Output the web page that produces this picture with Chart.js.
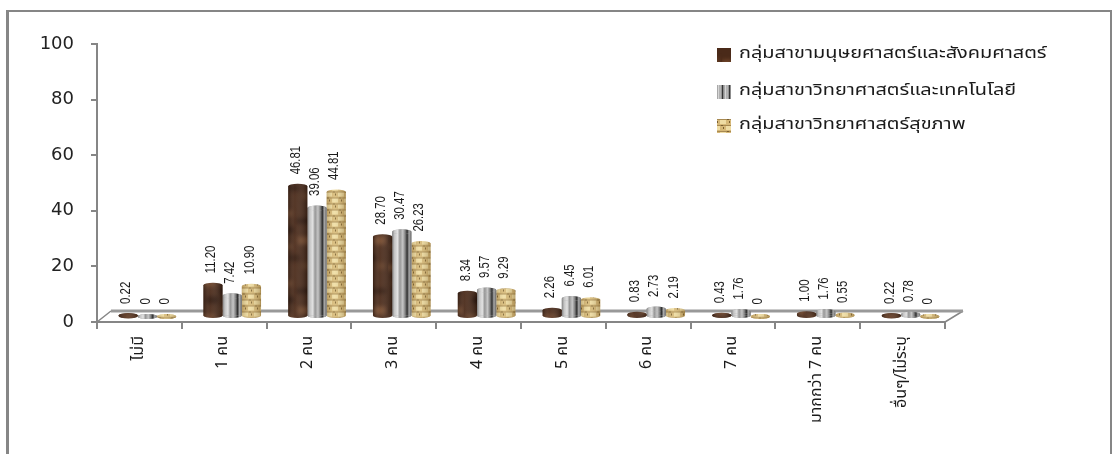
<!DOCTYPE html>
<html>
<head>
<meta charset="utf-8">
<title>chart</title>
<script src="https://cdn.jsdelivr.net/npm/chart.js@4/dist/chart.umd.min.js"></script>
<style>
  body { margin: 0; background: #fff; }
  #wrap { position: relative; width: 1112px; height: 454px; overflow: hidden; }
  #chart { display: block; }
</style>
</head>
<body>
<div id="wrap"><canvas id="chart" width="1112" height="454"></canvas></div>
<script>
const categories = ["ไม่มี", "1 คน", "2 คน", "3 คน", "4 คน", "5 คน", "6 คน", "7 คน", "มากกว่า 7 คน", "อื่นๆ/ไม่ระบุ"];
const seriesNames = [
  "กลุ่มสาขามนุษยศาสตร์และสังคมศาสตร์",
  "กลุ่มสาขาวิทยาศาสตร์และเทคโนโลยี",
  "กลุ่มสาขาวิทยาศาสตร์สุขภาพ",
];
const humanities = [0.22, 11.2, 46.81, 28.7, 8.34, 2.26, 0.83, 0.43, 1.0, 0.22];
const scienceTech = [0, 7.42, 39.06, 30.47, 9.57, 6.45, 2.73, 1.76, 1.76, 0.78];
const health = [0, 10.9, 44.81, 26.23, 9.29, 6.01, 2.19, 0, 0.55, 0];
const yTicks = [0, 20, 40, 60, 80, 100];

const GREY = "#868686";
const THAI = "'Noto Sans Thai', 'Noto Sans', 'DejaVu Sans', sans-serif";

// bars stand on the floor of the fake 3d box, so they are shifted back from the axis
const depthX = 8, depthY = -5.5, capR = 2.5;

function makeTexture(w, h, base, paint) {
  const c = document.createElement("canvas");
  c.width = w;
  c.height = h;
  const g = c.getContext("2d");
  g.fillStyle = base;
  g.fillRect(0, 0, w, h);
  paint(g);
  return g.createPattern(c, "repeat");
}

const darkTexture = makeTexture(38, 70, "#4a2a19", (g) => {
  g.filter = "blur(2px)";
  const blotches = [
    [4, 6, 14, 6, "#6e4429"], [22, 14, 14, 5, "#2e160b"], [8, 22, 12, 7, "#2e160b"],
    [24, 32, 12, 8, "#75492c"], [2, 40, 16, 4, "#6e4429"], [14, 50, 12, 7, "#331a0e"],
    [28, 58, 8, 7, "#5f3a22"], [0, 60, 10, 6, "#75492c"],
  ];
  blotches.forEach((b) => {
    g.fillStyle = b[4];
    g.fillRect(b[0], b[1], b[2], b[3]);
  });
});

const tanTexture = makeTexture(12, 12, "#d6b878", (g) => {
  g.fillStyle = "#efdca4";
  g.fillRect(0, 0, 6, 4);
  g.fillRect(6, 6, 6, 4);
  g.fillStyle = "#a88a52";
  g.fillRect(0, 5, 12, 1);
  g.fillRect(0, 11, 12, 1);
  g.fillStyle = "#7a5f30";
  g.fillRect(9, 1, 1, 2);
  g.fillRect(3, 7, 1, 2);
  g.fillRect(1, 5, 2, 1);
  g.fillRect(7, 11, 2, 1);
});

// horizontal shading of one cylinder, per series
const shades = [
  [[0, "rgba(0,0,0,0.25)"], [0.35, "rgba(255,255,255,0.06)"], [1, "rgba(0,0,0,0.3)"]],
  [[0, "#808080"], [0.12, "#c4c4c4"], [0.28, "#e2e2e2"], [0.4, "#969696"], [0.55, "#c6c6c6"],
   [0.68, "#808080"], [0.78, "#2e2e2e"], [0.88, "#a8a8a8"], [1, "#666666"]],
  [[0, "rgba(90,60,10,0.25)"], [0.4, "rgba(255,255,220,0.12)"], [1, "rgba(90,60,10,0.35)"]],
];

function shadeFill(ctx, set, left, right) {
  const grad = ctx.createLinearGradient(left, 0, right, 0);
  shades[set].forEach((s) => grad.addColorStop(s[0], s[1]));
  return grad;
}

function fillEllipse(ctx, set, bg, bar, y) {
  const half = bar.width / 2;
  ctx.beginPath();
  ctx.ellipse(bar.x, y, half, capR, 0, 0, Math.PI * 2);
  ctx.fillStyle = bg;
  ctx.fill();
  ctx.fillStyle = shadeFill(ctx, set, bar.x - half, bar.x + half);
  ctx.fill();
}

const fakeBox = {
  id: "fakeBox",
  beforeDatasetsDraw(chart) {
    const { ctx, chartArea: a } = chart;
    ctx.save();
    ctx.strokeStyle = GREY;
    ctx.lineWidth = 1.5;
    ctx.beginPath();
    ctx.moveTo(a.left, a.bottom);
    ctx.lineTo(a.left + 14, a.bottom - 11);
    ctx.moveTo(a.right + 18, a.bottom - 11);
    ctx.lineTo(a.right, a.bottom);
    ctx.stroke();
    ctx.strokeStyle = "#999";
    ctx.lineWidth = 3;
    ctx.beginPath();
    ctx.moveTo(a.left + 14, a.bottom - 11);
    ctx.lineTo(a.right + 18, a.bottom - 11);
    ctx.stroke();
    ctx.restore();
  },
  beforeDatasetDraw(chart, args) {
    const { ctx } = chart;
    ctx.save();
    ctx.translate(depthX, depthY);
    const bg = chart.data.datasets[args.index].backgroundColor;
    args.meta.data.forEach((bar) => fillEllipse(ctx, args.index, bg, bar, bar.base));
  },
  afterDatasetDraw(chart, args) {
    const { ctx } = chart;
    const bg = chart.data.datasets[args.index].backgroundColor;
    args.meta.data.forEach((bar) => {
      const half = bar.width / 2;
      ctx.fillStyle = shadeFill(ctx, args.index, bar.x - half, bar.x + half);
      ctx.fillRect(bar.x - half, bar.y, bar.width, bar.base - bar.y);
      fillEllipse(ctx, args.index, bg, bar, bar.y);
    });
    ctx.fillStyle = "#1a1a1a";
    ctx.font = "15px 'Liberation Sans'";
    ctx.textAlign = "left";
    ctx.textBaseline = "middle";
    args.meta.data.forEach((bar, i) => {
      const v = chart.data.datasets[args.index].data[i];
      ctx.save();
      ctx.translate(bar.x - 2, bar.y - 12);
      ctx.rotate(-Math.PI / 2);
      ctx.scale(0.76, 1);
      ctx.fillText(v === 0 ? "0" : v.toFixed(2), 0, 0);
      ctx.restore();
    });
    ctx.restore();
  },
  afterDraw(chart) {
    const { ctx, width } = chart;
    ctx.save();
    // outer frame, open at the bottom
    ctx.fillStyle = GREY;
    ctx.fillRect(6, 10, width - 6, 2);
    ctx.fillRect(6, 10, 3, 444);
    ctx.fillRect(1110, 10, 2, 444);
    // legend, text stretched wide like the original
    const rows = [55, 92, 126];
    ctx.font = "16px " + THAI;
    ctx.textBaseline = "middle";
    ctx.textAlign = "left";
    seriesNames.forEach((name, i) => {
      const y = rows[i];
      ctx.fillStyle = chart.data.datasets[i].backgroundColor;
      ctx.fillRect(717, y - 7, 14, 14);
      if (i === 1) {
        ctx.fillStyle = shadeFill(ctx, 1, 717, 724);
        ctx.fillRect(717, y - 7, 7, 14);
        ctx.fillStyle = shadeFill(ctx, 1, 724, 731);
        ctx.fillRect(724, y - 7, 7, 14);
      }
      ctx.fillStyle = "#1a1a1a";
      ctx.save();
      ctx.translate(739, y);
      ctx.scale(1.245, 1);
      ctx.fillText(name, 0, 0);
      ctx.restore();
    });
    ctx.restore();
  },
};

const ctx = document.getElementById("chart").getContext("2d");
new Chart(ctx, {
  type: "bar",
  data: {
    labels: categories,
    datasets: [
      { label: seriesNames[0], data: humanities, backgroundColor: darkTexture },
      { label: seriesNames[1], data: scienceTech, backgroundColor: "#b0b0b0" },
      { label: seriesNames[2], data: health, backgroundColor: tanTexture },
    ],
  },
  options: {
    responsive: false,
    animation: false,
    layout: { padding: { top: 44, right: 167, left: 0, bottom: 0 } },
    categoryPercentage: 0.68,
    barPercentage: 1,
    plugins: { legend: { display: false }, tooltip: { enabled: false } },
    scales: {
      x: {
        afterFit(scale) { scale.height = 132; },
        grid: { drawOnChartArea: false, color: GREY, lineWidth: 2, tickLength: 7 },
        border: { color: GREY, width: 2 },
        ticks: {
          autoSkip: false,
          minRotation: 90,
          maxRotation: 90,
          padding: 7,
          color: "#1a1a1a",
          font: { family: THAI, size: 16 },
        },
      },
      y: {
        min: 0,
        max: 100,
        afterFit(scale) { scale.width = 97; },
        afterBuildTicks(scale) { scale.ticks = yTicks.map((v) => ({ value: v })); },
        grid: { drawOnChartArea: false, color: GREY, lineWidth: 2, tickLength: 6 },
        border: { color: GREY, width: 2 },
        ticks: {
          padding: 17,
          color: "#222",
          font: { family: "'DejaVu Sans'", size: 18 },
        },
      },
    },
  },
  plugins: [fakeBox],
});
</script>
</body>
</html>
